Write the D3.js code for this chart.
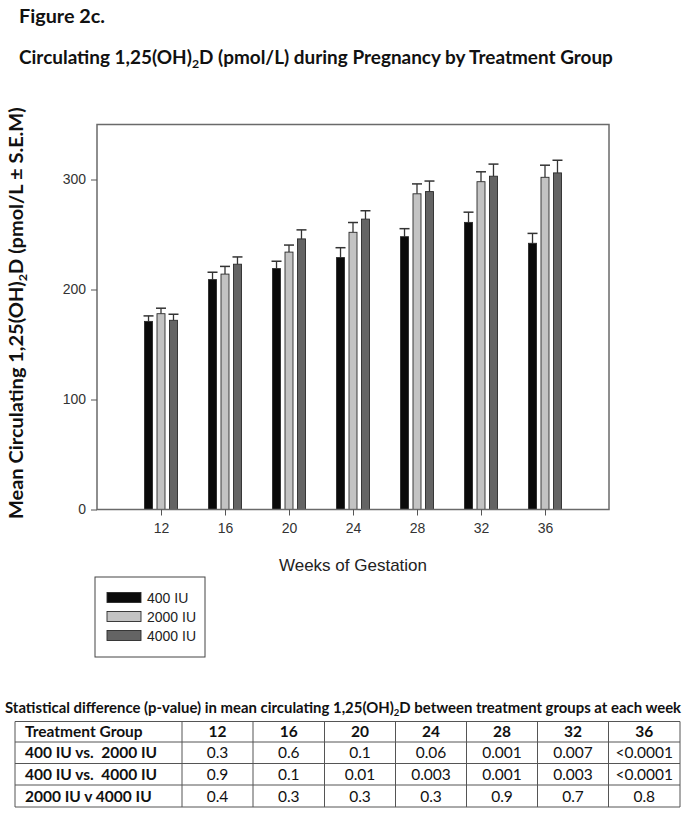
<!DOCTYPE html>
<html><head><meta charset="utf-8">
<script src="https://cdn.jsdelivr.net/npm/d3@7"></script>
<style>body{margin:0;background:#fff}svg{display:block}</style>
</head><body>
<svg id="c" width="692" height="814"></svg>
<script>
const weeks = [12, 16, 20, 24, 28, 32, 36];
const groups = ["400 IU", "2000 IU", "4000 IU"];
const mean400 = [171, 209, 219, 229, 248, 261, 242];
const mean2000 = [178, 214, 234, 252, 287, 298, 302];
const mean4000 = [172, 223, 246, 264, 289, 303, 306];
const sem400 = [5, 6.7, 6.7, 9, 7.3, 9.3, 9];
const sem2000 = [5, 7, 6.4, 8.9, 9, 9, 11];
const sem4000 = [5.5, 6.6, 8.2, 7.6, 9.6, 11, 11.5];
const yTicks = [0, 100, 200, 300];
const tableHeader = ["Treatment Group", "12", "16", "20", "24", "28", "32", "36"];
const tableRowLabels = ["400 IU vs.  2000 IU", "400 IU vs.  4000 IU", "2000 IU v 4000 IU"];
const p400v2000 = ["0.3", "0.6", "0.1", "0.06", "0.001", "0.007", "<0.0001"];
const p400v4000 = ["0.9", "0.1", "0.01", "0.003", "0.001", "0.003", "<0.0001"];
const p2000v4000 = ["0.4", "0.3", "0.3", "0.3", "0.9", "0.7", "0.8"];

const means = [mean400, mean2000, mean4000];
const sems = [sem400, sem2000, sem4000];
const fills = ["#0a0a0a", "#c3c3c3", "#646464"];
const svg = d3.select("#c");
const CAL = "Lato, 'Open Sans', sans-serif";
const ARIAL = "'Liberation Sans', Arial, sans-serif";

// helper: text with subscript "2", horizontally scaled to a target width
function subText(parent, pre, post, size, subSize) {
  const t = parent.append("text").attr("font-family", CAL).attr("font-weight", 700)
    .attr("font-size", size).attr("fill", "#111");
  t.append("tspan").text(pre);
  t.append("tspan").attr("font-size", subSize).attr("dy", size * 0.2).text("2");
  t.append("tspan").attr("dy", -size * 0.2).text(post);
  return t;
}
function fit(g, t, width) {
  const w = t.node().getComputedTextLength();
  return width / w;
}

// Titles
const g1 = svg.append("g");
const t1 = g1.append("text").attr("font-family", CAL).attr("font-weight", 700)
  .attr("font-size", 18).attr("fill", "#111").text("Figure 2c.");
g1.attr("transform", `translate(19,23) scale(${fit(g1, t1, 86)},1)`);

const g2 = svg.append("g");
const t2 = subText(g2, "Circulating 1,25(OH)", "D (pmol/L) during Pregnancy by Treatment Group", 18.5, 12);
g2.attr("transform", `translate(19,64) scale(${fit(g2, t2, 594)},1)`);

// Scales
const x = d3.scaleLinear().domain([8, 40]).range([97, 609]);
const y = d3.scaleLinear().domain([0, 350]).range([509.5, 124.5]);
const off = [-0.78, 0, 0.78];
const bw = x(8.5) - x(8);

// Bars
groups.forEach((g, gi) => {
  const data = weeks.map((w, i) => ({w, m: means[gi][i], s: sems[gi][i]}));
  const gg = svg.append("g");
  gg.selectAll("line.e").data(data).enter().append("line")
    .attr("x1", d => x(d.w + off[gi])).attr("x2", d => x(d.w + off[gi]))
    .attr("y1", d => y(d.m)).attr("y2", d => y(d.m + d.s)).attr("stroke", "#333").attr("stroke-width", 1.3);
  gg.selectAll("line.c").data(data).enter().append("line")
    .attr("x1", d => x(d.w + off[gi]) - 5).attr("x2", d => x(d.w + off[gi]) + 5)
    .attr("y1", d => y(d.m + d.s)).attr("y2", d => y(d.m + d.s)).attr("stroke", "#333").attr("stroke-width", 1.5);
  gg.selectAll("rect").data(data).enter().append("rect")
    .attr("x", d => x(d.w + off[gi]) - bw / 2).attr("width", bw)
    .attr("y", d => y(d.m)).attr("height", d => y(0) - y(d.m))
    .attr("fill", fills[gi]).attr("stroke", "#2a2a2a").attr("stroke-width", 0.9);
});

// Frame
svg.append("rect").attr("x", 97).attr("y", 124.5).attr("width", 512).attr("height", 385)
  .attr("fill", "none").attr("stroke", "#6a6a6a").attr("stroke-width", 1.5);

// Axes
const ya = svg.append("g").attr("transform", "translate(97,0)")
  .call(d3.axisLeft(y).tickValues(yTicks).tickSize(6).tickPadding(5));
ya.select(".domain").remove();
ya.selectAll("line").attr("stroke", "#555");
ya.selectAll("text").attr("font-family", ARIAL).attr("font-size", 14).attr("fill", "#333");
const xa = svg.append("g").attr("transform", "translate(0,509.5)")
  .call(d3.axisBottom(x).tickValues(weeks).tickSize(6).tickPadding(8));
xa.select(".domain").remove();
xa.selectAll("line").attr("stroke", "#555");
xa.selectAll("text").attr("font-family", ARIAL).attr("font-size", 14).attr("fill", "#333");

svg.append("text").attr("x", 353).attr("y", 571).attr("text-anchor", "middle").attr("font-family", ARIAL)
  .attr("font-size", 17).attr("fill", "#222").text("Weeks of Gestation");

const gy = svg.append("g");
const yt = subText(gy, "Mean Circulating 1,25(OH)", "D (pmol/L ± S.E.M)", 19, 12);
const ys = fit(gy, yt, 412);
const yw = yt.node().getComputedTextLength();
gy.attr("transform", `translate(23,313) rotate(-90) scale(${ys},1) translate(${-yw / 2},0)`);

// Legend
svg.append("rect").attr("x", 95).attr("y", 577).attr("width", 110).attr("height", 80)
  .attr("fill", "#fff").attr("stroke", "#444").attr("stroke-width", 1);
groups.forEach((g, i) => {
  const cy = 597.5 + i * 19;
  svg.append("rect").attr("x", 107).attr("y", cy - 5).attr("width", 34).attr("height", 10)
    .attr("fill", fills[i]).attr("stroke", "#2a2a2a").attr("stroke-width", 0.9);
  svg.append("text").attr("x", 147).attr("y", cy + 5).attr("font-family", ARIAL).attr("font-size", 14)
    .attr("fill", "#222").text(g);
});

// Table caption
const gc = svg.append("g");
const cap = subText(gc, "Statistical difference (p-value) in mean circulating 1,25(OH)", "D between treatment groups at each week", 15.5, 10);
gc.attr("transform", `translate(5,713) scale(${fit(gc, cap, 677)},1)`);

// Table
const colX = [15, 182, 253, 324.5, 395.5, 466.5, 537.5, 608.5, 680];
const rowY = [721.5, 742, 763.5, 785, 807];
const rows = [tableHeader, [tableRowLabels[0], ...p400v2000], [tableRowLabels[1], ...p400v4000], [tableRowLabels[2], ...p2000v4000]];
const tg = svg.append("g");
rowY.forEach(yy => tg.append("line").attr("x1", colX[0]).attr("x2", colX[8]).attr("y1", yy).attr("y2", yy)
  .attr("stroke", "#555").attr("stroke-width", 1));
colX.forEach(xx => tg.append("line").attr("x1", xx).attr("x2", xx).attr("y1", rowY[0]).attr("y2", rowY[4])
  .attr("stroke", "#555").attr("stroke-width", 1));
rows.forEach((r, ri) => {
  const by = (rowY[ri] + rowY[ri + 1]) / 2 + 5.5;
  r.forEach((v, ci) => {
    const t = tg.append("text").attr("y", by).attr("font-family", CAL).attr("font-size", 15.5).attr("fill", "#111")
      .style("white-space", "pre");
    if (ci === 0) {
      t.attr("x", 25).attr("font-weight", 700);
    } else {
      t.attr("x", (colX[ci] + colX[ci + 1]) / 2).attr("text-anchor", "middle")
        .attr("font-weight", ri === 0 ? 700 : 400);
    }
    t.text(v);
  });
});
</script>
</body></html>
